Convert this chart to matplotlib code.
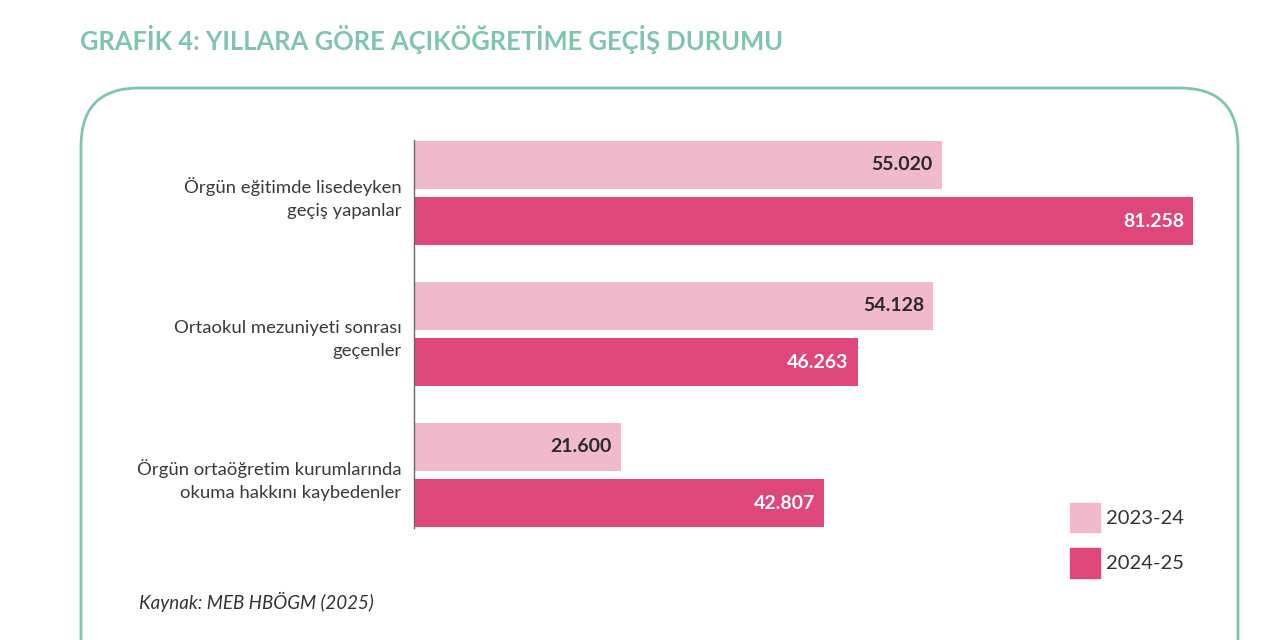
import matplotlib.pyplot as plt
from matplotlib.patches import FancyBboxPatch, Patch

plt.rcParams['font.family'] = ['Lato', 'DejaVu Sans']

categories = ["Örgün eğitimde lisedeyken\ngeçiş yapanlar",
              "Ortaokul mezuniyeti sonrası\ngeçenler",
              "Örgün ortaöğretim kurumlarında\nokuma hakkını kaybedenler"]
years = ["2023-24", "2024-25"]
vals_2023 = [55020, 54128, 21600]
vals_2024 = [81258, 46263, 42807]

c_light = '#f1b9cc'
c_dark = '#df4679'
c_teal = '#80c5ab'

fig = plt.figure(figsize=(12.8, 6.4), dpi=100)

# background frame in pixel coords
bg = fig.add_axes([0, 0, 1, 1])
bg.set_xlim(0, 1280)
bg.set_ylim(640, 0)
bg.axis('off')
box = FancyBboxPatch((81, 88), 1157, 620, boxstyle="round,pad=0,rounding_size=58",
                     fc='white', ec=c_teal, lw=2)
bg.add_patch(box)
bg.text(80, 40, "GRAFİK 4: YILLARA GÖRE AÇIKÖĞRETİME GEÇİŞ DURUMU", color=c_teal,
        fontsize=18.4, fontweight='bold', va='center', ha='left')
bg.text(139, 602, "Kaynak: MEB HBÖGM (2025)", fontsize=13.5, style='italic',
        color='#333333', va='center', ha='left')

ax = fig.add_axes([414/1280, 1-528/640, 815/1280, 388/640])
ax.patch.set_alpha(0)
pos = list(range(len(categories)))
h = 0.34
off = 0.2
b1 = ax.barh([p - off for p in pos], vals_2023, height=h, color=c_light)
b2 = ax.barh([p + off for p in pos], vals_2024, height=h, color=c_dark)

def fmt(v):
    return f"{v:,}".replace(",", ".")

for bars, vals, tc in [(b1, vals_2023, '#2a2a2a'), (b2, vals_2024, 'white')]:
    for bar, v in zip(bars, vals):
        ax.annotate(fmt(v), (v, bar.get_y() + bar.get_height()/2),
                    xytext=(-9, 0), textcoords='offset pixels',
                    ha='right', va='center', fontsize=14, fontweight='bold', color=tc)

ax.set_xlim(0, 85000)
ax.set_ylim(2 + off + h/2 + 0.005, -off - h/2 - 0.005)
ax.set_yticks(pos)
ax.set_yticklabels(categories, fontsize=13.3, color='#3a3a3a', linespacing=1.55)
ax.tick_params(axis='y', length=0, pad=9)
ax.set_xticks([])
for s in ['top', 'right', 'bottom']:
    ax.spines[s].set_visible(False)
ax.spines['left'].set_color('#666666')
ax.spines['left'].set_linewidth(1)

handles = [Patch(color=c_light), Patch(color=c_dark)]
fig.legend(handles, years, loc='upper left', bbox_to_anchor=(1070/1280, 1-503/640),
           frameon=False, fontsize=14.5, handlelength=1.49, handleheight=1.86,
           labelspacing=0.8, handletextpad=0.3, borderpad=0, borderaxespad=0,
           labelcolor='#333333')

fig.savefig('out.png', dpi=100)
